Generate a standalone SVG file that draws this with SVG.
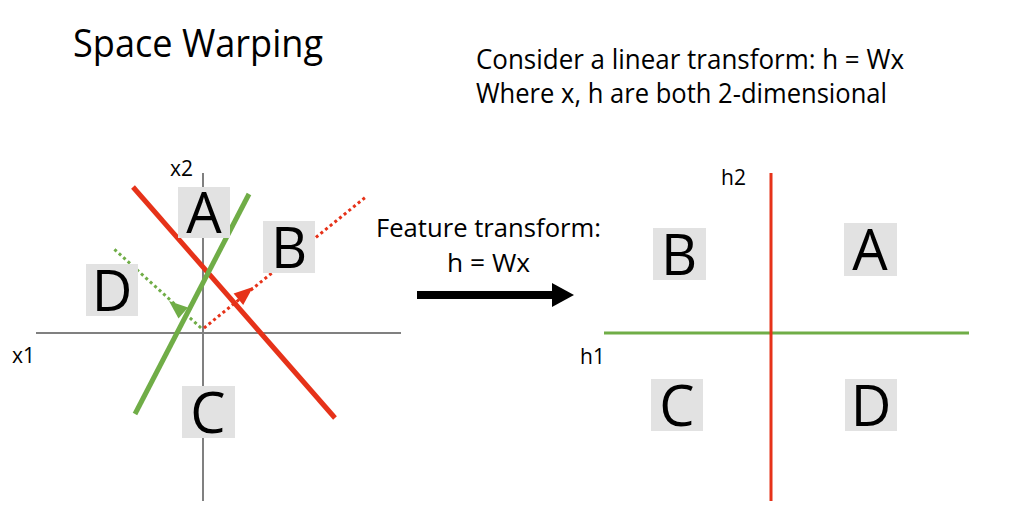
<svg xmlns="http://www.w3.org/2000/svg" width="1011" height="517" viewBox="0 0 1011 517">
<style>
text{font-family:"Open Sans",Lato,"Liberation Sans",sans-serif;fill:#000}
.box{fill:#e2e2e2}
.big{font-size:56px;text-anchor:middle}
.lbl{font-size:21px}
.axis{stroke:#808080;stroke-width:2;fill:none}
.red{stroke:#e63219;fill:none}
.grn{stroke:#70ad47;fill:none}
.dot{stroke-width:3;stroke-dasharray:3 3}
</style>
<rect width="1011" height="517" fill="#fff"/>
<text x="73" y="57" font-size="39" textLength="250" lengthAdjust="spacingAndGlyphs">Space Warping</text>
<text x="476" y="69" font-size="27" textLength="428" lengthAdjust="spacingAndGlyphs">Consider a linear transform: h = Wx</text>
<text x="476" y="103" font-size="27" textLength="411" lengthAdjust="spacingAndGlyphs">Where x, h are both 2-dimensional</text>
<g id="connectors">
<line class="axis" x1="36" y1="333" x2="401" y2="333"/>
<line class="axis" x1="203" y1="173" x2="203" y2="501"/>
<line class="red" stroke-width="5" x1="133" y1="187" x2="335" y2="418"/>
<line class="grn" stroke-width="5" x1="249" y1="194" x2="135" y2="414"/>
<line class="red dot" x1="204" y1="328" x2="367" y2="196"/>
<path d="M253,287 L243.2,305 L233.6,293.4 z" fill="#e63219"/>
<line class="grn dot" x1="201" y1="328" x2="113" y2="248"/>
<path d="M169,301 L188,307.5 L178.5,318.5 z" fill="#70ad47"/>
<line class="grn" stroke-width="3" x1="604" y1="333" x2="969" y2="333"/>
<line class="red" stroke-width="3" x1="771" y1="173" x2="771" y2="501"/>
<line x1="417" y1="295" x2="555" y2="295" stroke="#000" stroke-width="8"/>
<path d="M552,283 L574,295 L552,307 z" fill="#000"/>
</g>
<g id="label-x2"><text class="lbl" x="170" y="176">x2</text></g>
<g id="label-x1"><text class="lbl" x="12" y="363">x1</text></g>
<g id="label-h2"><text class="lbl" x="721" y="185">h2</text></g>
<g id="label-h1"><text class="lbl" x="580" y="364">h1</text></g>
<g id="left-A"><rect class="box" x="178" y="187" width="52" height="51"/><text class="big" x="204" y="233">A</text></g>
<g id="left-B"><rect class="box" x="263" y="221" width="52" height="52"/><text class="big" x="289" y="268">B</text></g>
<g id="left-D"><rect class="box" x="86" y="264" width="52" height="52"/><text class="big" x="112" y="311">D</text></g>
<g id="left-C"><rect class="box" x="182" y="386" width="53" height="52"/><text class="big" x="208" y="433">C</text></g>
<g id="transform-label">
<text x="376" y="237" font-size="26" textLength="225" lengthAdjust="spacingAndGlyphs">Feature transform:</text>
<text x="447" y="272" font-size="26" textLength="83" lengthAdjust="spacingAndGlyphs">h = Wx</text>
</g>
<g id="right-B"><rect class="box" x="653" y="228" width="53" height="52"/><text class="big" x="679" y="275">B</text></g>
<g id="right-A"><rect class="box" x="844" y="223" width="53" height="53"/><text class="big" x="870" y="270">A</text></g>
<g id="right-C"><rect class="box" x="651" y="379" width="52" height="52"/><text class="big" x="677" y="426">C</text></g>
<g id="right-D"><rect class="box" x="845" y="379" width="52" height="52"/><text class="big" x="871" y="426">D</text></g>
</svg>
